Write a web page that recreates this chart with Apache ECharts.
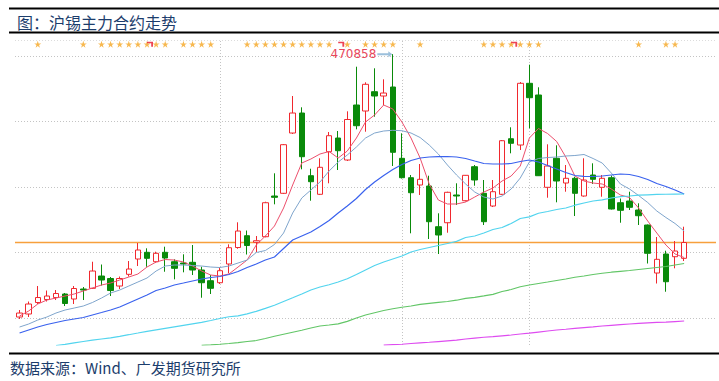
<!DOCTYPE html>
<html><head><meta charset="utf-8">
<script src="https://cdn.jsdelivr.net/npm/echarts@6/dist/echarts.min.js"></script>
<style>html,body{margin:0;padding:0;background:#fff;}#c{width:719px;height:381px;}</style>
</head><body><div id="c"></div>
<script>
// ---- data ----
const titleText = '图：沪锡主力合约走势';
const sourceText = '数据来源：Wind、广发期货研究所';
const slotCount = 77; // 74 trading days + 3 empty slots on the right
const categories = Array.from({length: slotCount}, (_, k) => 'D' + (k + 1));

// [open, close, low, high]
const candles = [
[350460,352290,349550,353670],[351840,356420,350460,357560],[357100,359390,356420,364660],[358480,360080,357560,362600],
[359390,361230,358250,362830],[361000,356650,355500,361450],[358710,363520,356420,364660],[363290,362830,358250,364200],
[363610,371530,363290,375790],[369240,367410,364890,374510],[368100,362600,360080,368780],[364660,368100,363290,369010],
[370020,372450,369010,376110],[377030,381150,373820,384350],[380100,377350,373500,381930],[375790,379640,375190,380370],
[380100,377480,371210,382660],[375790,372770,367730,376890],[375190,374740,370940,379180],[375520,371990,369700,383440],
[371990,366170,359300,373500],[367090,363610,361000,369700],[366170,371670,365580,373230],[374740,382200,370480,383760],
[382290,389850,381740,393840],[387700,383210,379090,390080],[384680,385410,380230,387560],[387240,402810,386970,403270],
[405880,405290,402080,416280],[407120,429380,406800,429700],[434730,443890,434280,451680],[443890,423880,418110,446510],
[415180,412430,403730,418380],[406660,419030,406340,423150],[426170,433500,411700,435190],[432440,426630,417790,435650],
[422370,440920,421910,444670],[447560,438080,436430,465100],[444810,457040,435330,457960],[453650,451680,442200,464370],
[451680,453050,447560,459330],[455800,425900,419620,470858],[423150,414260,413900,434600],[414260,407390,388800,415500],
[410920,413530,406340,420540],[410460,394110,386190,415180],[391820,388020,379320,397960],[393650,407580,389070,407850],
[406340,405880,401760,411700],[403730,415360,403360,415500],[419300,413210,410600,420080],[407120,394110,392600,413210],
[401300,407850,400840,413210],[406660,431210,406340,431530],[432120,430020,425440,437350],[429240,457500,426950,458090],
[457500,450900,436890,466020],[452140,415180,415040,455670],[409870,419620,405100,429560],[423150,412750,403000,429100],
[411830,413990,407850,420080],[413990,407120,396720,414720],[405880,413210,405560,423150],[415500,413530,411380,420860],
[409870,413990,405560,415500],[414260,399930,399700,415270],[402810,399330,393650,404740],[403590,400710,399470,407850],
[399470,396860,392600,402540],[392600,379640,374970,392830],[370610,376890,365810,387100],[379320,366630,362050,380830],
[378080,380690,372770,385270],[377350,384580,376110,391820]
];

const ma5 = [350920,353210,356420,358250,359160,360080,361000,362370,363740,365120,366030,367410,368780,370160,373360,375650,376800,376570,375650,373820,371530,369700,369240,370160,373360,376570,383440,387560,392140,400380,410920,420990,422830,425120,426260,423280,426490,432440,439770,442980,447560,445730,439770,432440,423280,411380,404050,402220,402220,403130,405420,407710,409540,412750,415040,419620,432440,436800,434510,430840,423740,415040,412750,411830,411380,409090,406340,405190,400380,394430,388930,383440,379320,377710];
const ma10 = [345880,347260,349090,350460,352290,353670,354580,355500,357100,359160,361450,362830,364660,366490,368320,371530,373820,374280,374280,374050,373820,373360,373130,373820,375190,376570,380000,380920,383670,388930,398090,404960,408630,412290,417330,421450,424660,428320,432440,434730,435650,435970,435790,434730,432670,429240,425120,420080,415500,411380,407710,405420,404510,405880,409090,414120,421450,423060,423510,423740,424200,424430,424890,423060,420990,416410,411380,409090,406110,402900,399010,396030,393290,389850];
const ma20 = [343130,344510,345880,347030,347940,348860,349550,350230,351380,352520,353670,355040,356870,358710,360540,362600,363740,365120,366030,366950,367870,368550,369010,369930,371300,373130,374740,376570,377940,381840,385730,387560,389390,391910,394660,398090,401300,404740,408860,412290,415270,418020,420310,422140,423280,423740,423880,423970,423740,423060,421910,420770,420540,420540,420770,421680,422370,421450,419850,418250,416640,415270,414900,414810,415040,415500,415960,415730,414810,413440,411610,410230,408630,406800];
const ma60Start = 4;
const ma60 = [337410,337960,338650,339240,339840,340390,340940,341620,342360,343130,343910,344600,345290,345970,346660,347350,348040,348860,349780,350600,351010,351930,353070,354450,355870,357560,359260,361000,362830,364200,365260,366490,368000,369930,371990,374050,375650,377030,378400,380230,381380,382290,383210,384130,385130,386870,387560,388930,390540,391450,393290,395580,396350,398000,398780,399700,400380,401670,402670,403590,404140,404960,405560,405880,406250,406430,406610,406700,406750,406800];
const ma120Start = 20;
const ma120 = [337500,337730,338000,338330,338740,339240,339700,340620,341670,342580,343500,344420,345420,346340,346800,347350,348490,350000,351380,352430,353440,354260,354950,355500,356280,356740,357200,357560,358160,359030,359490,360170,360860,362140,363060,364340,365120,365810,366490,367180,367870,368690,369240,369930,370520,370980,371390,371760,372220,372680,373130,373590,374280,374970];
const ma250Start = 40;
const ma250 = [337560,337780,338000,338330,338650,338920,339240,339560,339840,340390,340840,341210,341490,341850,342220,342680,343130,343590,344050,344510,344870,345290,345650,345970,346340,346660,346980,347260,347530,347760,347990,348170,348400,348630];

const starDays = [2,7,9,10,11,12,13,14,15,16,18,19,20,21,25,26,27,28,29,30,31,32,33,34,36,38,39,40,41,44,51,52,53,54,55,56,57,68,71,72];
const signalDays = [14,35,54];
const monthStartDays = [22,42,56];
const gridLevels = [470000,440000,410000,380000,350000];
const refLevel = 384500;

// ---- chart ----
const yMin = 337650, yMax = 477330, markLevel = 475360;
let maxIdx = 0;
candles.forEach((c, k) => { if (c[3] > candles[maxIdx][3]) maxIdx = k; });
const maxHigh = candles[maxIdx][3];

const chart = echarts.init(document.getElementById('c'), null, {renderer: 'svg'});
const withStart = (arr, s) => arr.map((v, k) => [categories[k + s], v]);
const maLine = (name, data, color, w) => ({
  name, type: 'line', data, showSymbol: false, symbol: 'none', z: 3,
  lineStyle: {color, width: w}, silent: true, animation: false, clip: true
});
const dotted = {color: '#c4c4c4', width: 1, type: [1, 2]};

const option = {
  animation: false,
  grid: {left: 15, right: 3, top: 40, bottom: 36, containLabel: false},
  xAxis: {type: 'category', data: categories, boundaryGap: true, show: false},
  yAxis: {type: 'value', min: yMin, max: yMax, show: false, splitLine: {show: false}},
  graphic: [
    {type: 'rect', shape: {x: 9, y: 7.5, width: 710, height: 2}, style: {fill: '#000'}},
    {type: 'rect', shape: {x: 9, y: 31.5, width: 710, height: 2}, style: {fill: '#000'}},
    {type: 'rect', shape: {x: 9, y: 352.5, width: 710, height: 2}, style: {fill: '#000'}},
    {type: 'text', x: 17, y: 22, style: {text: titleText, font: '16px "Noto Sans CJK SC"', fill: '#1c3d6c', verticalAlign: 'middle'}},
    {type: 'text', x: 10, y: 367.5, style: {text: sourceText, font: '15px "Noto Sans CJK SC"', fill: '#1c3d6c', verticalAlign: 'middle'}}
  ],
  series: [
    {
      name: 'K', type: 'candlestick', data: candles, barWidth: 6, z: 2,
      itemStyle: {color: '#ffffff', color0: '#0a8a0a', borderColor: '#f0282e', borderColor0: '#0a8a0a', borderWidth: 1},
      markLine: {
        silent: true, symbol: ['none', 'none'], z: 1, animation: false,
        label: {show: false},
        data: [
          {yAxis: yMax, lineStyle: {color: '#dcdcdc', width: 1, type: [1, 2]}},
          ...gridLevels.map(v => ({yAxis: v, lineStyle: dotted})),
          ...monthStartDays.map(i => ({xAxis: categories[i], lineStyle: dotted})),
          {yAxis: refLevel, lineStyle: {color: '#f7a03c', width: 1.3, type: 'solid'}}
        ]
      },
      markPoint: {
        silent: true, animation: false,
        data: [{
          coord: [categories[maxIdx], maxHigh], value: maxHigh,
          symbol: 'path://M0,2 L11,2 L11,0 L15,3 L11,6 L11,4 L0,4 Z',
          symbolSize: [15, 6], symbolOffset: [-8, 0],
          itemStyle: {color: '#9cc0dc'},
          label: {show: true, position: 'left', distance: 1, formatter: String(maxHigh),
                  color: '#e8485c', fontSize: 12, fontFamily: 'DejaVu Sans'}
        }]
      }
    },
    maLine('MA5', ma5, '#ec4f6c', 1),
    maLine('MA10', ma10, '#7fa5cc', 1),
    maLine('MA20', ma20, '#3a62ee', 1.2),
    maLine('MA60', withStart(ma60, ma60Start), '#52d4ee', 1.2),
    maLine('MA120', withStart(ma120, ma120Start), '#62c667', 1.2),
    maLine('MA250', withStart(ma250, ma250Start), '#de4cf0', 1.2),
    {
      name: 'stars', type: 'scatter', z: 4, silent: true,
      data: starDays.map(i => [categories[i], markLevel]),
      symbol: 'path://M5,0 L6.2,3.6 L10,3.6 L6.9,5.8 L8.1,9.5 L5,7.2 L1.9,9.5 L3.1,5.8 L0,3.6 L3.8,3.6 Z',
      symbolSize: 7, itemStyle: {color: '#f5a623'}
    },
    {
      name: 'signals', type: 'scatter', z: 5, silent: true,
      data: signalDays.map(i => [categories[i], markLevel]),
      symbol: 'path://M0,0 L10,0 L10,10 L7,10 L7,3 L0,3 Z',
      symbolSize: [6, 5], symbolOffset: [3, 0], itemStyle: {color: '#e8142c'}
    }
  ]
};
chart.setOption(option);
</script>
</body></html>
